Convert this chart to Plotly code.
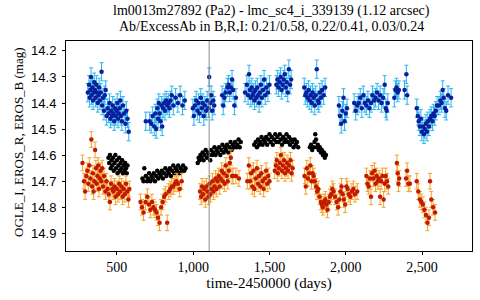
import plotly.graph_objects as go

# EROS_B (blue, with error bars)
b_t = [310, 318, 322, 327, 331, 335, 340, 344, 349, 352, 357, 361, 366, 370, 375, 380, 384, 389, 395, 400, 404, 410, 416, 421, 427, 433, 440, 446, 452, 458, 463, 468, 473, 478, 483, 488, 493, 498, 503, 508, 513, 518, 523, 528, 533, 540, 548, 556, 562, 570, 578,
       690, 715, 725, 735, 745, 752, 758, 765, 770, 775, 780, 786, 792, 797, 803, 810, 816, 823, 830, 838, 845, 852, 860, 870, 885, 900, 915, 930, 945,
       998, 1005, 1012, 1020, 1028, 1035, 1042, 1050, 1057, 1063, 1070, 1077, 1085, 1092, 1100, 1105, 1112, 1118, 1125, 1132, 1138,
       1190, 1197, 1205, 1212, 1225, 1232, 1240, 1248, 1255, 1262, 1270, 1280,
       1340, 1352, 1360, 1366, 1372, 1378, 1384, 1390, 1396, 1402, 1408, 1414, 1420, 1426, 1432, 1438, 1444, 1450, 1458, 1465, 1472, 1480, 1490, 1500,
       1545, 1552, 1560, 1567, 1573, 1580, 1587, 1593, 1600, 1607, 1614, 1620, 1627, 1635, 1642,
       1728, 1735, 1742, 1750, 1757, 1764, 1770, 1777, 1783, 1790, 1797, 1803, 1810, 1817, 1823, 1830, 1837, 1845, 1855, 1865,
       1955, 1962, 1970, 1978, 1985, 1992, 2000, 2008,
       2055, 2065, 2075, 2085, 2095, 2105, 2115, 2125, 2135, 2145, 2155, 2165, 2175, 2185, 2195, 2205, 2215, 2225, 2235, 2245, 2255, 2262, 2268, 2275,
       2318, 2325, 2332, 2340, 2348, 2385, 2397, 2402,
       2465, 2472, 2478, 2485, 2492, 2498, 2505, 2512, 2518, 2525, 2532, 2538, 2545, 2552, 2560, 2568, 2575, 2582, 2590, 2598,
       2610, 2620, 2628, 2635, 2642, 2650, 2658, 2670, 2690]
b_m = [14.36, 14.33, 14.38, 14.35, 14.30, 14.37, 14.34, 14.39, 14.36, 14.32, 14.35, 14.38, 14.33, 14.36, 14.40, 14.37, 14.34, 14.39, 14.36, 14.28, 14.41, 14.38, 14.43, 14.37, 14.35, 14.45, 14.42, 14.44, 14.40, 14.46, 14.43, 14.45, 14.41, 14.44, 14.47, 14.42, 14.45, 14.43, 14.40, 14.46, 14.44, 14.42, 14.39, 14.45, 14.47, 14.41, 14.44, 14.48, 14.43, 14.46, 14.51,
       14.47, 14.47, 14.48, 14.45, 14.49, 14.44, 14.50, 14.42, 14.46, 14.40, 14.44, 14.47, 14.41, 14.49, 14.42, 14.40, 14.43, 14.39, 14.41, 14.40, 14.42, 14.39, 14.37, 14.41, 14.38, 14.40, 14.37, 14.41, 14.39,
       14.42, 14.45, 14.41, 14.39, 14.43, 14.40, 14.44, 14.38, 14.42, 14.40, 14.45, 14.41, 14.43, 14.39, 14.42, 14.30, 14.40, 14.37, 14.43, 14.39, 14.41,
       14.37, 14.41, 14.38, 14.36, 14.34, 14.33, 14.36, 14.34, 14.31, 14.35, 14.41, 14.38,
       14.36, 14.33, 14.37, 14.29, 14.35, 14.38, 14.34, 14.37, 14.36, 14.39, 14.35, 14.38, 14.34, 14.37, 14.40, 14.36, 14.33, 14.38, 14.35, 14.31, 14.37, 14.34, 14.36, 14.33,
       14.33, 14.31, 14.34, 14.32, 14.30, 14.35, 14.33, 14.31, 14.29, 14.34, 14.32, 14.36, 14.27, 14.33, 14.31,
       14.34, 14.37, 14.36, 14.38, 14.35, 14.39, 14.37, 14.40, 14.36, 14.38, 14.41, 14.37, 14.27, 14.39, 14.40, 14.36, 14.38, 14.35, 14.37, 14.34,
       14.41, 14.45, 14.48, 14.43, 14.38, 14.47, 14.44, 14.42,
       14.40, 14.43, 14.41, 14.40, 14.38, 14.42, 14.37, 14.40, 14.41, 14.39, 14.42, 14.40, 14.37, 14.39, 14.38, 14.36, 14.39, 14.37, 14.40, 14.38, 14.33, 14.42, 14.43, 14.40,
       14.38, 14.35, 14.34, 14.36, 14.35, 14.35, 14.29, 14.37,
       14.42, 14.45, 14.47, 14.49, 14.46, 14.51, 14.49, 14.52, 14.50, 14.48, 14.51, 14.47, 14.49, 14.46, 14.45, 14.47, 14.44, 14.45, 14.43, 14.41,
       14.41, 14.39, 14.40, 14.35, 14.38, 14.42, 14.43, 14.37, 14.38]

# OGLE_I (black, no error bars)
k_t = [445, 450, 455, 460, 465, 470, 475, 480, 485, 490, 495, 500, 505, 510, 515, 520, 525, 530, 535, 540, 545, 550, 555, 560, 565, 570,
       668, 675, 680, 690, 698, 705, 712, 720, 728, 735, 742, 750, 758, 765, 772, 780, 788, 795, 802, 810, 818, 825, 833, 840, 848, 855, 862, 870, 878, 886, 894, 902, 910, 918, 926, 934, 942, 950,
       1030, 1036, 1042, 1048, 1055, 1062, 1068, 1075, 1082, 1090, 1097, 1105, 1112, 1118, 1125, 1132, 1140, 1147, 1154, 1162, 1170, 1178, 1185, 1192, 1200, 1208, 1215, 1222, 1230, 1238, 1245, 1252, 1260, 1268, 1275, 1283, 1290, 1298, 1305, 1312,
       1400, 1410, 1418, 1425, 1432, 1440, 1448, 1455, 1462, 1470, 1478, 1485, 1492, 1500, 1508, 1515, 1522, 1530, 1538, 1545, 1552, 1560, 1568, 1575, 1582, 1590, 1598, 1605, 1612, 1620, 1628, 1635, 1642, 1650, 1658, 1665, 1672, 1680, 1688,
       1765, 1772, 1780, 1788, 1795, 1800, 1805, 1810, 1817, 1823, 1830, 1837, 1843, 1850, 1857, 1863, 1870]
k_m = [14.61, 14.63, 14.60, 14.65, 14.62, 14.64, 14.61, 14.66, 14.63, 14.60, 14.65, 14.62, 14.67, 14.64, 14.61, 14.66, 14.63, 14.65, 14.62, 14.67, 14.64, 14.66, 14.63, 14.65, 14.67, 14.64,
       14.69, 14.70, 14.65, 14.68, 14.70, 14.69, 14.67, 14.70, 14.68, 14.69, 14.67, 14.70, 14.68, 14.66, 14.69, 14.67, 14.68, 14.66, 14.69, 14.67, 14.65, 14.68, 14.66, 14.67, 14.65, 14.68, 14.66, 14.64, 14.67, 14.65, 14.66, 14.64, 14.67, 14.65, 14.66, 14.64, 14.66, 14.65,
       14.63, 14.61, 14.62, 14.60, 14.61, 14.59, 14.62, 14.60, 14.58, 14.61, 14.59, 14.60, 14.62, 14.58, 14.60, 14.59, 14.57, 14.60, 14.58, 14.59, 14.57, 14.60, 14.58, 14.56, 14.59, 14.57, 14.58, 14.56, 14.59, 14.57, 14.55, 14.58, 14.56, 14.57, 14.55, 14.57, 14.56, 14.54, 14.57, 14.55,
       14.56, 14.55, 14.57, 14.54, 14.56, 14.55, 14.53, 14.56, 14.54, 14.55, 14.53, 14.56, 14.54, 14.52, 14.55, 14.53, 14.56, 14.54, 14.52, 14.55, 14.53, 14.55, 14.52, 14.54, 14.56, 14.53, 14.55, 14.54, 14.52, 14.55, 14.53, 14.56, 14.54, 14.55, 14.57, 14.54, 14.56, 14.55, 14.57,
       14.57, 14.56, 14.58, 14.57, 14.55, 14.52, 14.54, 14.57, 14.56, 14.58, 14.57, 14.59, 14.58, 14.60, 14.59, 14.61, 14.60]

# EROS_R (red, with error bars)
r_t = [275, 285, 292, 300, 307, 313, 320, 327, 333, 338, 343, 348, 353, 358, 363, 368, 373, 378, 383, 388, 393, 398, 404, 410, 416,
       425, 432, 440, 447, 455, 462, 470, 477, 485, 492, 500, 508, 515, 522, 530, 538, 545, 552, 560, 568, 576, 582,
       655, 665, 675, 688, 700, 710, 720, 730, 740, 750, 760, 770, 780, 790, 800, 810, 820, 830, 840, 850, 860, 870, 880, 890, 900, 912, 925,
       1045, 1052, 1058, 1065, 1072, 1080, 1087, 1094, 1100, 1107, 1113, 1120, 1127, 1134, 1140, 1147, 1154, 1160, 1167, 1174, 1180, 1187, 1194, 1200, 1207, 1214, 1220, 1227, 1234, 1240, 1247, 1255, 1262, 1280, 1300,
       1355, 1365, 1372, 1380, 1388, 1395, 1402, 1410, 1418, 1425, 1432, 1440, 1447, 1455, 1462, 1470, 1478, 1485, 1492, 1500,
       1535, 1542, 1548, 1555, 1562, 1568, 1575, 1582, 1588, 1595, 1602, 1608, 1615, 1622, 1630, 1638, 1645, 1652,
       1730, 1738, 1745, 1752, 1760, 1768, 1775, 1782, 1790, 1797, 1805, 1812, 1820, 1828, 1836, 1843, 1850, 1858, 1866, 1873, 1880, 1888, 1896, 1904, 1912, 1920,
       1930, 1940, 1950, 1958, 1965, 1972, 1980, 1988, 1996, 2004, 2012, 2020, 2030, 2040, 2050, 2060, 2075,
       2135, 2142, 2150, 2158, 2165, 2172, 2180, 2188, 2195, 2202, 2210, 2218, 2225, 2232, 2240, 2248, 2255, 2262, 2270, 2278,
       2335, 2340, 2345, 2350, 2395, 2402, 2410, 2420,
       2465, 2475, 2485, 2495, 2505, 2515, 2525, 2535, 2545, 2552, 2560, 2572, 2585]
r_m = [14.63, 14.70, 14.74, 14.68, 14.66, 14.71, 14.64, 14.69, 14.54, 14.72, 14.67, 14.74, 14.70, 14.58, 14.65, 14.71, 14.68, 14.64, 14.73, 14.69, 14.66, 14.70, 14.65, 14.72, 14.68,
       14.74, 14.70, 14.73, 14.75, 14.78, 14.71, 14.73, 14.74, 14.72, 14.76, 14.73, 14.75, 14.71, 14.74, 14.72, 14.76, 14.73, 14.75, 14.71, 14.74, 14.77, 14.73,
       14.78, 14.80, 14.82, 14.78, 14.76, 14.79, 14.81, 14.78, 14.80, 14.81, 14.82, 14.84, 14.86, 14.80, 14.78, 14.76, 14.75, 14.86, 14.74, 14.73, 14.72, 14.72, 14.71, 14.70, 14.71, 14.73, 14.70,
       14.74, 14.76, 14.72, 14.75, 14.73, 14.77, 14.72, 14.74, 14.76, 14.71, 14.75, 14.73, 14.70, 14.74, 14.72, 14.69, 14.73, 14.70, 14.68, 14.72, 14.69, 14.66, 14.70, 14.67, 14.71, 14.64, 14.68, 14.70, 14.66, 14.63, 14.61, 14.68, 14.68, 14.68, 14.69,
       14.70, 14.64, 14.70, 14.67, 14.72, 14.66, 14.73, 14.69, 14.65, 14.71, 14.68, 14.72, 14.67, 14.70, 14.73, 14.69, 14.66, 14.71, 14.68, 14.70,
       14.66, 14.64, 14.62, 14.67, 14.65, 14.63, 14.60, 14.66, 14.64, 14.62, 14.67, 14.65, 14.63, 14.66, 14.64, 14.62, 14.67, 14.65,
       14.68, 14.72, 14.65, 14.69, 14.67, 14.64, 14.70, 14.67, 14.68, 14.70, 14.72, 14.74, 14.73, 14.76, 14.78, 14.79, 14.80, 14.78, 14.77, 14.79, 14.81, 14.78, 14.76, 14.75, 14.73, 14.74,
       14.76, 14.78, 14.80, 14.77, 14.74, 14.72, 14.75, 14.77, 14.79, 14.72, 14.73, 14.75, 14.76, 14.74, 14.73, 14.75, 14.74,
       14.68, 14.71, 14.72, 14.69, 14.76, 14.67, 14.69, 14.66, 14.71, 14.68, 14.70, 14.69, 14.76, 14.70, 14.68, 14.77, 14.71, 14.68, 14.70, 14.72,
       14.63, 14.67, 14.71, 14.69, 14.69, 14.66, 14.71, 14.71,
       14.70, 14.74, 14.77, 14.78, 14.79, 14.81, 14.83, 14.86, 14.84, 14.70, 14.77, 14.80, 14.82]

x_ticks = [500, 1000, 1500, 2000, 2500]
y_ticks = [14.2, 14.3, 14.4, 14.5, 14.6, 14.7, 14.8, 14.9]
event_day = 1105
b_err = 0.035
r_err = 0.03
title_lines = ["lm0013m27892 (Pa2) - lmc_sc4_i_339139 (1.12 arcsec)",
               "Ab/ExcessAb in B,R,I: 0.21/0.58, 0.22/0.41, 0.03/0.24"]
y_title = "OGLE_I, EROS_R, EROS_B (mag)"

SERIF = "Liberation Serif, Times New Roman, Times, serif"
SANS = "Liberation Sans, Arial, Helvetica, sans-serif"

fig = go.Figure()
fig.add_trace(go.Scatter(x=b_t, y=b_m, mode="markers", name="EROS_B",
                         marker=dict(color="#0a1f9e", size=4.5),
                         error_y=dict(type="constant", value=b_err, color="#2ab4ee", thickness=1, width=2)))
fig.add_trace(go.Scatter(x=k_t, y=k_m, mode="markers", name="OGLE_I",
                         marker=dict(color="black", size=4.5)))
fig.add_trace(go.Scatter(x=r_t, y=r_m, mode="markers", name="EROS_R",
                         marker=dict(color="#c21a00", size=4.5),
                         error_y=dict(type="constant", value=r_err, color="#f5a225", thickness=1, width=2)))
fig.add_vline(x=event_day, line=dict(color="#8a8a8a", width=1))

for i, line in enumerate(title_lines):
    fig.add_annotation(text=line, xref="paper", yref="paper", x=0.505, y=1.0,
                       yshift=30 - 15 * i, xanchor="center", yanchor="middle", showarrow=False,
                       font=dict(family=SERIF, size=14, color="black"))

fig.add_annotation(text=y_title, xref="paper", yref="paper", x=0.0, y=0.5,
                   xshift=-48, yshift=4, textangle=-90, xanchor="center", yanchor="middle",
                   showarrow=False, font=dict(family=SERIF, size=13, color="black"))

fig.update_layout(
    width=480, height=300,
    margin=dict(l=66, r=8, t=41, b=49),
    paper_bgcolor="white", plot_bgcolor="white",
    showlegend=False,
    xaxis=dict(range=[167, 2827], tickvals=x_ticks, tickformat=",d", automargin=False,
               showline=True, linecolor="black", linewidth=1, mirror=True,
               ticks="outside", ticklen=3, tickcolor="black", showgrid=False, zeroline=False,
               tickfont=dict(family=SERIF, size=14, color="black"),
               title=dict(text="time-2450000 (days)", standoff=2,
                          font=dict(family=SERIF, size=15, color="black"))),
    yaxis=dict(range=[14.968, 14.162], tickvals=y_ticks, tickformat=".1f", automargin=False,
               showline=True, linecolor="black", linewidth=1, mirror=True,
               ticks="outside", ticklen=3, tickcolor="black", showgrid=False, zeroline=False,
               ticklabelstandoff=3,
               tickfont=dict(family=SANS, size=13, color="black")),
)
# remove the default page margin so the 480x300 figure fills the window exactly
fig.write_html("out.html", config={"displayModeBar": False},
               post_script="document.body.style.margin='0';")
